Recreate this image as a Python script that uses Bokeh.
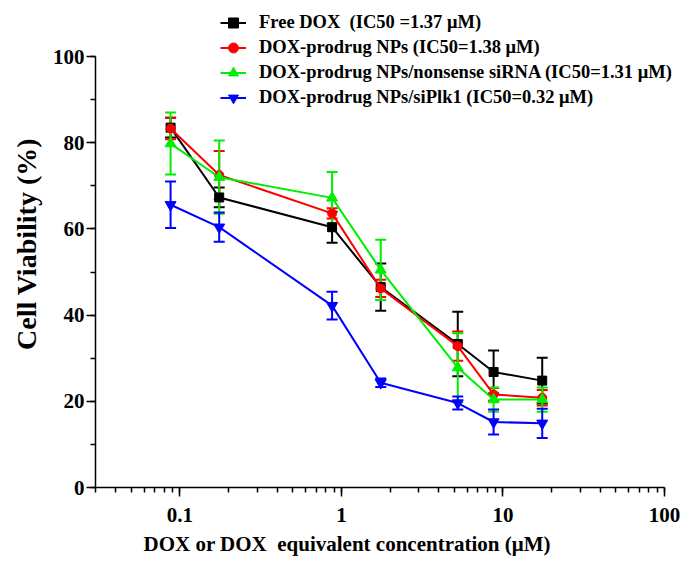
from bokeh.plotting import figure
from bokeh.models import (ColumnDataSource, Whisker, TeeHead, Legend, LegendItem,
                          LogTicker, SingleIntervalTicker, Range1d, Title)
from bokeh.embed import file_html
from bokeh.resources import INLINE

# ---- data ----
conc = [0.0875, 0.175, 0.875, 1.75, 5.25, 8.75, 17.5]

free_dox = [83.5, 67.3, 60.4, 46.5, 33.3, 26.8, 24.8]
free_dox_err = [2.3, 2.3, 3.6, 5.5, 7.5, 5.0, 5.3]

nps = [83.3, 72.5, 63.6, 46.2, 32.8, 21.6, 20.8]
nps_err = [2.5, 5.6, 1.2, 2.0, 3.4, 1.5, 1.8]

nps_ns = [79.8, 72.0, 67.2, 50.5, 27.8, 20.4, 20.4]
nps_ns_err = [7.2, 8.5, 6.0, 7.0, 8.0, 2.8, 2.8]

nps_plk = [65.6, 60.4, 42.2, 24.3, 19.6, 15.2, 14.9]
nps_plk_err = [5.4, 3.4, 3.2, 1.0, 1.5, 2.9, 3.4]

series_labels = [
    "Free DOX  (IC50 =1.37 \u03bcM)",
    "DOX-prodrug NPs (IC50=1.38 \u03bcM)",
    "DOX-prodrug NPs/nonsense siRNA (IC50=1.31 \u03bcM)",
    "DOX-prodrug NPs/siPlk1 (IC50=0.32 \u03bcM)",
]
x_label = "DOX or DOX\u00a0\u00a0equivalent concentration (\u03bcM)"
y_label = "Cell Viability (%)"

x_axis_min, x_axis_max = 0.03, 100
y_axis_min, y_axis_max = 0, 100

FONT = "Liberation Serif"

# the visible frame extends above/right of the drawn axes so the legend fits
p = figure(width=691, height=562, x_axis_type="log",
           x_range=Range1d(0.03, 147), y_range=Range1d(0, 113),
           output_backend="svg", toolbar_location=None,
           min_border_left=95, min_border_right=0, min_border_top=0,
           min_border_bottom=75)
p.xgrid.visible = False
p.ygrid.visible = False
p.outline_line_color = None
p.background_fill_color = "white"

series = [
    (free_dox, free_dox_err, "black", "square", 9),
    (nps, nps_err, "#ff0000", "circle", 9),
    (nps_ns, nps_ns_err, "#00ee00", "triangle", 11),
    (nps_plk, nps_plk_err, "#0000ff", "inverted_triangle", 11),
]

items = []
for (ys, errs, color, marker, size), label in zip(series, series_labels):
    src = ColumnDataSource(dict(
        x=conc, y=ys,
        upper=[a + b for a, b in zip(ys, errs)],
        lower=[a - b for a, b in zip(ys, errs)],
    ))
    ln = p.line("x", "y", source=src, line_color=color, line_width=2)
    sc = p.scatter("x", "y", source=src, marker=marker, size=size,
                   fill_color=color, line_color=color)
    w = Whisker(source=src, base="x", upper="upper", lower="lower",
                dimension="height", line_color=color, line_width=2,
                upper_head=TeeHead(size=11, line_color=color, line_width=2),
                lower_head=TeeHead(size=11, line_color=color, line_width=2))
    p.add_layout(w)
    items.append(LegendItem(label=label, renderers=[ln, sc]))

legend = Legend(items=items, location=(125, 377), padding=0, margin=0,
                spacing=0, label_height=25, glyph_height=25, glyph_width=26,
                label_standoff=13, background_fill_alpha=0,
                border_line_color=None, label_text_font=FONT,
                label_text_font_style="bold", label_text_font_size="18.5px",
                label_text_color="black")
p.add_layout(legend)

# axes
p.xaxis.ticker = LogTicker(num_minor_ticks=10)
p.yaxis.ticker = SingleIntervalTicker(interval=20, num_minor_ticks=2)
p.xaxis.bounds = (x_axis_min, x_axis_max)
p.yaxis.bounds = (y_axis_min, y_axis_max)
for ax in (p.xaxis, p.yaxis):
    ax.axis_line_width = 1.5
    ax.major_tick_line_width = 1.5
    ax.minor_tick_line_width = 1.5
    ax.major_tick_in = 0
    ax.major_tick_out = 9
    ax.minor_tick_in = 0
    ax.minor_tick_out = 5
    ax.major_label_text_font = FONT
    ax.major_label_text_font_style = "bold"
    ax.major_label_text_font_size = "21px"
    ax.major_label_text_color = "black"
    ax.axis_line_color = "black"
    ax.major_tick_line_color = "black"
    ax.minor_tick_line_color = "black"

p.xaxis.major_label_standoff = 11
p.yaxis.major_label_standoff = 2
p.xaxis.major_label_overrides = {0.1: "0.1", 1: "1", 10: "10", 100: "100"}
p.yaxis.axis_label = y_label
p.yaxis.axis_label_text_font = FONT
p.yaxis.axis_label_text_font_style = "bold"
p.yaxis.axis_label_text_font_size = "28px"
p.yaxis.axis_label_text_color = "black"
p.yaxis.axis_label_standoff = 8

xt = Title(text=x_label, align="left", offset=48, standoff=11,
           text_font=FONT, text_font_style="bold", text_font_size="21px",
           text_color="black")
p.add_layout(xt, "below")

open("out.html", "w").write(file_html(p, INLINE))
